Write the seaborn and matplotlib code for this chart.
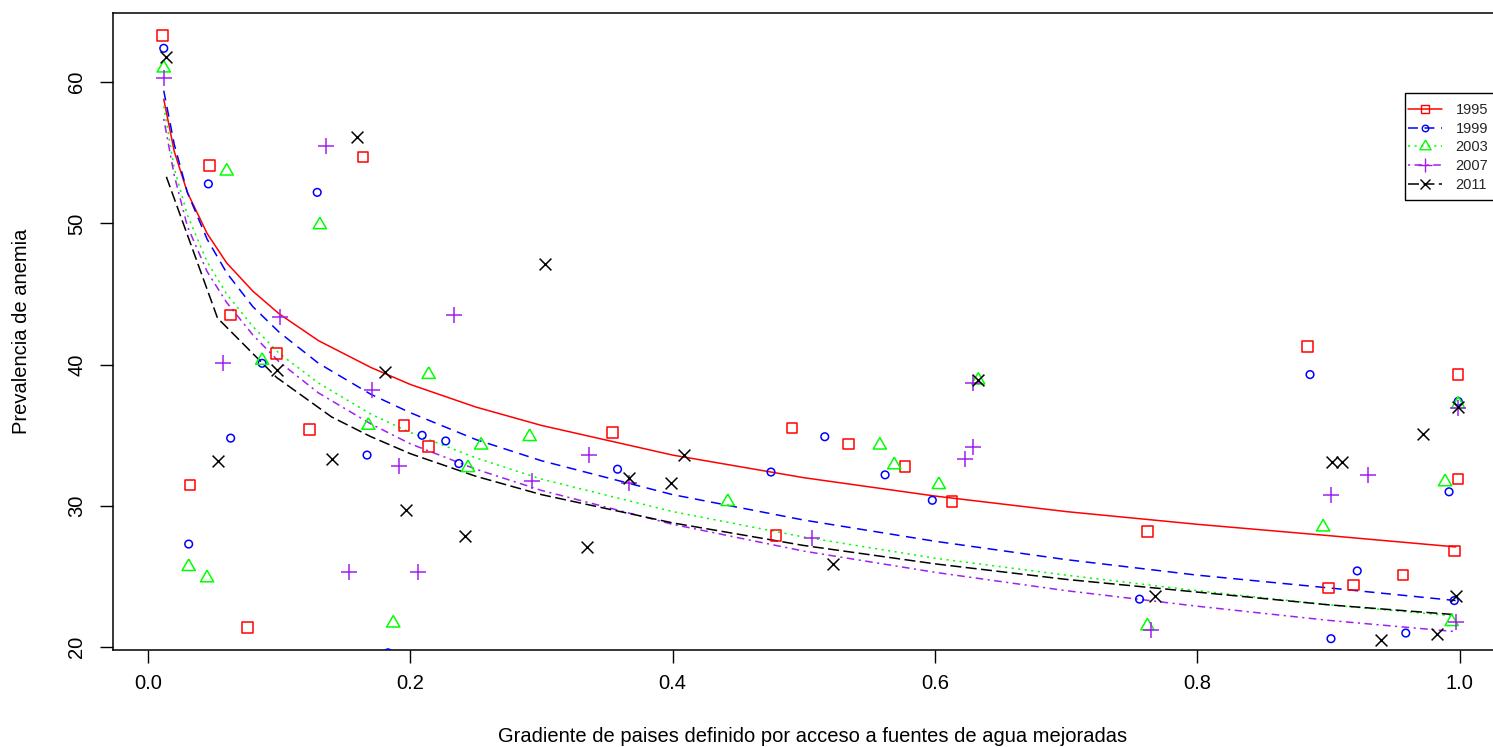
import numpy as np
import pandas as pd
import matplotlib
matplotlib.use("Agg")
import matplotlib.pyplot as plt
from matplotlib.lines import Line2D
from matplotlib.patches import Rectangle
import seaborn as sns

# ---------------- data ----------------
years = ["1995", "1999", "2003", "2007", "2011"]

x_1995 = [0.011, 0.047, 0.164, 0.063, 0.098, 0.123, 0.032, 0.076, 0.195, 0.214, 0.354, 0.491,
          0.534, 0.577, 0.613, 0.479, 0.884, 0.999, 0.999, 0.762, 0.996, 0.957, 0.919, 0.900]
y_1995 = [63.3, 54.1, 54.7, 43.5, 40.8, 35.4, 31.5, 21.4, 35.7, 34.2, 35.2, 35.5,
          34.4, 32.8, 30.3, 27.9, 41.3, 39.3, 31.9, 28.2, 26.8, 25.1, 24.4, 24.2]

x_1999 = [0.012, 0.046, 0.129, 0.087, 0.063, 0.031, 0.209, 0.227, 0.167, 0.237, 0.358, 0.183,
          0.516, 0.475, 0.562, 0.598, 0.886, 0.999, 0.992, 0.922, 0.756, 0.996, 0.902, 0.959]
y_1999 = [62.4, 52.8, 52.2, 40.1, 34.8, 27.3, 35.0, 34.6, 33.6, 33.0, 32.6, 19.6,
          34.9, 32.4, 32.2, 30.4, 39.3, 37.4, 31.0, 25.4, 23.4, 23.3, 20.6, 21.0]

x_2003 = [0.012, 0.060, 0.131, 0.087, 0.031, 0.045, 0.214, 0.168, 0.254, 0.291, 0.244,
          0.187, 0.442, 0.558, 0.569, 0.603, 0.633, 0.999, 0.989, 0.896, 0.762, 0.994]
y_2003 = [61.0, 53.7, 49.9, 40.3, 25.7, 24.9, 39.3, 35.7, 34.3, 34.9, 32.7,
          21.7, 30.3, 34.3, 32.9, 31.5, 38.9, 37.2, 31.7, 28.5, 21.5, 21.8]

x_2007 = [0.012, 0.136, 0.101, 0.057, 0.153, 0.233, 0.171, 0.191, 0.293, 0.336, 0.367,
          0.206, 0.506, 0.629, 0.623, 0.629, 0.999, 0.930, 0.902, 0.765, 0.997]
y_2007 = [60.3, 55.5, 43.4, 40.1, 25.3, 43.5, 38.2, 32.8, 31.8, 33.6, 31.6,
          25.3, 27.7, 34.2, 33.3, 38.7, 36.9, 32.2, 30.8, 21.2, 21.8]

x_2011 = [0.014, 0.159, 0.098, 0.053, 0.140, 0.181, 0.197, 0.242, 0.335, 0.367, 0.409, 0.399,
          0.303, 0.522, 0.633, 0.999, 0.972, 0.903, 0.910, 0.768, 0.997, 0.940, 0.983]
y_2011 = [61.8, 56.1, 39.6, 33.2, 33.3, 39.5, 29.7, 27.9, 27.1, 32.0, 33.6, 31.6,
          47.1, 25.9, 38.9, 37.0, 35.1, 33.1, 33.1, 23.6, 23.6, 20.5, 20.9]

# fitted trend curves, values at these x positions
fit_x = [0.012, 0.02, 0.03, 0.045, 0.06, 0.08, 0.1, 0.13, 0.17, 0.2, 0.25, 0.3,
         0.4, 0.5, 0.6, 0.7, 0.8, 0.9, 0.997]
fit_1995 = [58.8, 55.1, 52.2, 49.3, 47.2, 45.2, 43.6, 41.7, 39.8, 38.6, 37.0, 35.7,
            33.6, 32.0, 30.7, 29.6, 28.7, 27.9, 27.1]
fit_1999 = [59.4, 55.6, 52.2, 48.9, 46.5, 44.1, 42.3, 40.1, 37.9, 36.6, 34.7, 33.2,
            30.8, 29.0, 27.5, 26.2, 25.1, 24.2, 23.3]
fit_2003 = [58.3, 53.9, 50.6, 47.3, 45.0, 42.7, 40.8, 38.7, 36.5, 35.2, 33.4, 31.9,
            29.6, 27.8, 26.3, 25.1, 24.0, 23.0, 22.2]
fit_2007 = [57.4, 53.4, 49.8, 46.6, 44.4, 42.1, 40.2, 38.0, 35.8, 34.4, 32.6, 31.1,
            28.7, 26.8, 25.3, 24.0, 22.9, 21.9, 21.1]
fit_x_2011 = [0.014, 0.053, 0.098, 0.14, 0.17, 0.2, 0.25, 0.3, 0.4, 0.5, 0.6, 0.7,
              0.8, 0.9, 0.997]
fit_2011 = [53.3, 43.3, 39.1, 36.3, 34.9, 33.7, 32.1, 30.8, 28.8, 27.2, 25.9, 24.8,
            23.9, 23.0, 22.3]

x_ticks = [0.0, 0.2, 0.4, 0.6, 0.8, 1.0]
x_tick_labels = ["0.0", "0.2", "0.4", "0.6", "0.8", "1.0"]
y_ticks = [20, 30, 40, 50, 60]
y_tick_labels = ["20", "30", "40", "50", "60"]

xlabel = "Gradiente de paises definido por acceso a fuentes de agua mejoradas"
ylabel = "Prevalencia de anemia"

series_x = [x_1995, x_1999, x_2003, x_2007, x_2011]
series_y = [y_1995, y_1999, y_2003, y_2007, y_2011]
curves_x = [fit_x, fit_x, fit_x, fit_x, fit_x_2011]
curves_y = [fit_1995, fit_1999, fit_2003, fit_2007, fit_2011]

# ---------------- styles ----------------
colors = ["#FF0000", "#0000FF", "#00FF00", "#A020F0", "#000000"]
tri = [(0.0, 0.577), (-0.5, -0.289), (0.5, -0.289), (0.0, 0.577)]
markers = ["s", "o", tri, "+", "x"]
msizes = [7.5, 5.5, 11.0, 11.5, 8.5]
filled = [True, True, True, False, False]
dashes = ["-", (0, (6.5, 4.3)), (0, (1.4, 2.9)), (0, (1.4, 2.9, 5.0, 2.9)), (0, (7.2, 2.9))]

sns.set_theme(style="white")
plt.rcParams["font.family"] = ["Liberation Sans", "DejaVu Sans"]

W, H = 1493, 747
fig = plt.figure(figsize=(W / 100, H / 100), dpi=100)
ax_left, ax_right, ax_top, ax_bot = 113, 1512, 13, 650
ax = fig.add_axes([ax_left / W, 1 - ax_bot / H, (ax_right - ax_left) / W, (ax_bot - ax_top) / H])

for i, yr in enumerate(years):
    xs = np.asarray(series_x[i], dtype=float)
    ys = np.asarray(series_y[i], dtype=float)
    if filled[i]:
        sns.scatterplot(x=xs, y=ys, ax=ax, marker=markers[i], s=msizes[i] ** 2,
                        color=colors[i], edgecolor=colors[i], facecolor="none",
                        linewidth=1.1, zorder=3)
    else:
        sns.scatterplot(x=xs, y=ys, ax=ax, marker=markers[i], s=msizes[i] ** 2,
                        color=colors[i], linewidth=1.1, zorder=3)
    sns.lineplot(x=curves_x[i], y=curves_y[i], ax=ax, color=colors[i], linestyle=dashes[i],
                 linewidth=1.1, estimator=None, sort=True, zorder=2)

ax.set_xlim(-0.0267, 1.04)
ax.set_ylim(19.8, 64.9)
ax.set_xticks(x_ticks)
ax.set_xticklabels(x_tick_labels)
ax.set_yticks(y_ticks)
ax.set_yticklabels(y_tick_labels, rotation=90, va="center")

for s in ax.spines.values():
    s.set_color("black")
    s.set_linewidth(1.1)

ax.tick_params(axis="both", direction="out", length=9.4, width=1.0, color="black",
               labelsize=14.5, labelcolor="black", bottom=True, left=True)
ax.tick_params(axis="x", pad=8)
ax.tick_params(axis="y", pad=10)

ax.set_xlabel(xlabel, fontsize=14.5, color="black")
ax.set_ylabel(ylabel, fontsize=14.5, color="black")
ax.xaxis.label.set_va("center")
ax.yaxis.label.set_va("center")
ax.xaxis.set_label_coords(0.5, -(737 - ax_bot) / (ax_bot - ax_top))
ax.yaxis.set_label_coords(-(ax_left - 22) / (ax_right - ax_left), 0.5)

# legend (frame drawn as a rectangle to match the R layout)
handles = []
for i, yr in enumerate(years):
    handles.append(Line2D([0], [0], color=colors[i], linestyle=dashes[i], linewidth=1.1,
                          marker=markers[i], markersize=msizes[i] * 0.85,
                          markerfacecolor="none", markeredgecolor=colors[i], markeredgewidth=1.0))
leg = fig.legend(handles=handles, labels=years, loc="upper left",
                 bbox_to_anchor=(1408 / W, 1 - 103 / H), bbox_transform=fig.transFigure,
                 frameon=False, fontsize=10.5, handlelength=2.3, handletextpad=0.95,
                 labelspacing=0.32, borderpad=0.0, borderaxespad=0.0)
fig.patches.append(Rectangle((1405 / W, 1 - 200 / H), 120 / W, 107 / H, transform=fig.transFigure,
                             fill=False, edgecolor="black", linewidth=1.0))

fig.savefig("out.png", dpi=100)
